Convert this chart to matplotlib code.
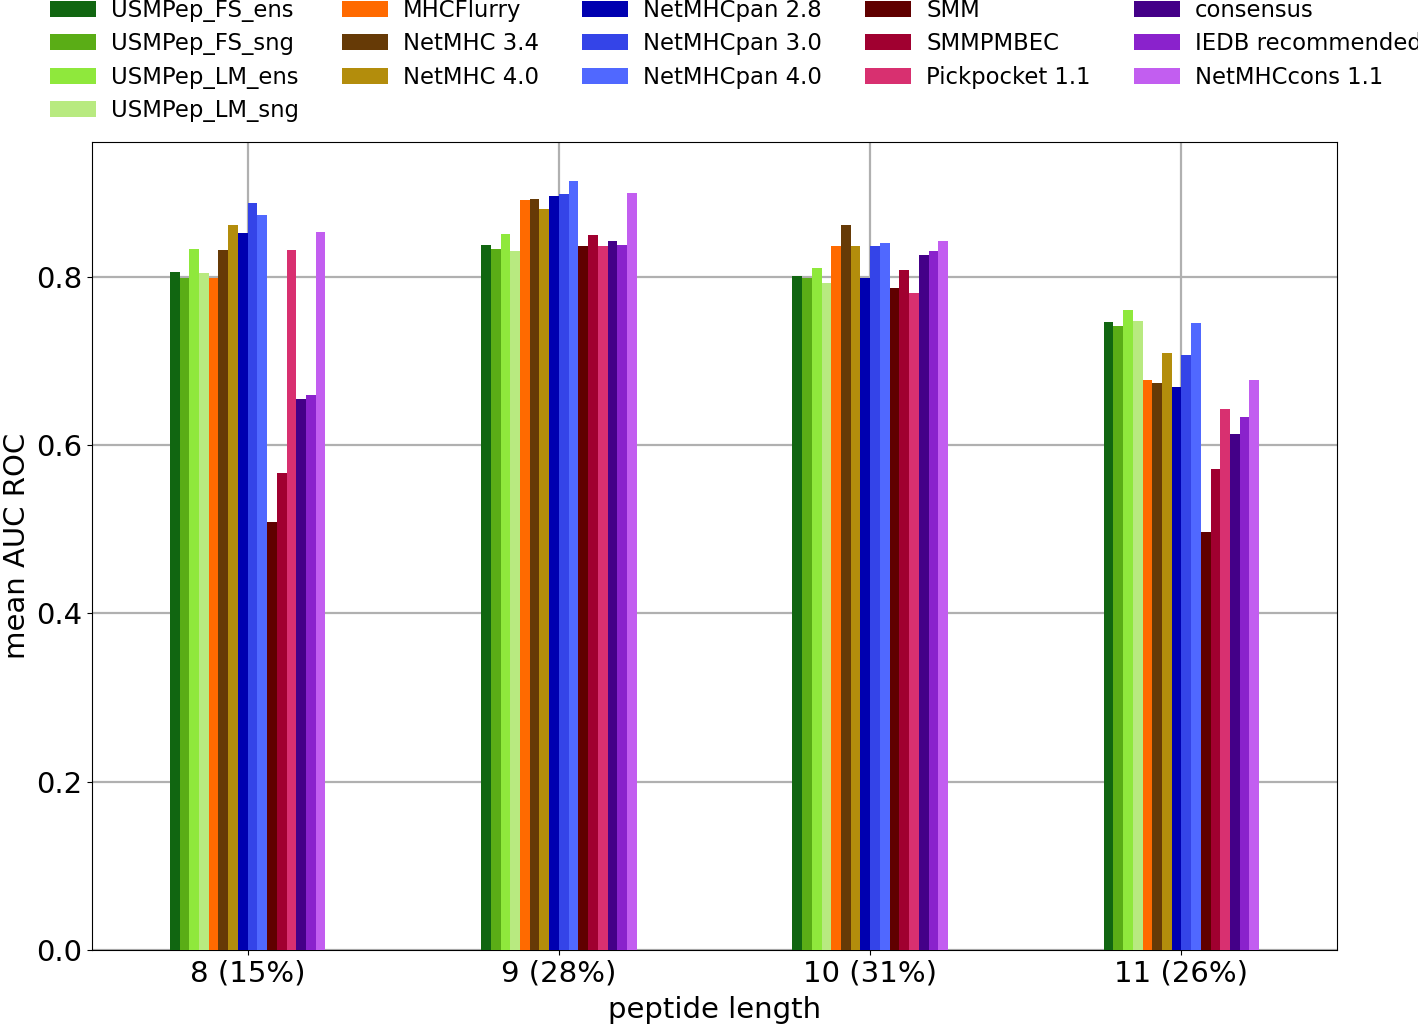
import numpy as np
import matplotlib
matplotlib.use('Agg')
from matplotlib import pyplot as plt

groups = ['8 (15%)', '9 (28%)', '10 (31%)', '11 (26%)']

methods = ['USMPep_FS_ens', 'USMPep_FS_sng', 'USMPep_LM_ens', 'USMPep_LM_sng',
           'MHCFlurry', 'NetMHC 3.4', 'NetMHC 4.0',
           'NetMHCpan 2.8', 'NetMHCpan 3.0', 'NetMHCpan 4.0',
           'SMM', 'SMMPMBEC', 'Pickpocket 1.1',
           'consensus', 'IEDB recommended', 'NetMHCcons 1.1']

colors = ['#116611', '#5aad16', '#8fe83c', '#b8ea80',
          '#ff6a00', '#663a06', '#b38d0c',
          '#0000b0', '#3444e8', '#5068ff',
          '#600000', '#a00030', '#d83070',
          '#440088', '#8a22cc', '#c25ef0']

# mean AUC ROC per method, one value per peptide length (8, 9, 10, 11)
usmpep_fs_ens = [0.806, 0.838, 0.801, 0.746]
usmpep_fs_sng = [0.798, 0.833, 0.798, 0.741]
usmpep_lm_ens = [0.833, 0.851, 0.810, 0.760]
usmpep_lm_sng = [0.804, 0.830, 0.793, 0.747]
mhcflurry = [0.798, 0.891, 0.837, 0.677]
netmhc_34 = [0.832, 0.892, 0.862, 0.674]
netmhc_40 = [0.862, 0.880, 0.836, 0.709]
netmhcpan_28 = [0.852, 0.896, 0.798, 0.669]
netmhcpan_30 = [0.887, 0.898, 0.836, 0.707]
netmhcpan_40 = [0.873, 0.914, 0.840, 0.745]
smm = [0.508, 0.836, 0.786, 0.497]
smmpmbec = [0.567, 0.850, 0.808, 0.572]
pickpocket = [0.832, 0.836, 0.781, 0.643]
consensus = [0.655, 0.842, 0.826, 0.613]
iedb_rec = [0.659, 0.838, 0.830, 0.633]
netmhccons = [0.853, 0.899, 0.842, 0.677]

values = [usmpep_fs_ens, usmpep_fs_sng, usmpep_lm_ens, usmpep_lm_sng,
          mhcflurry, netmhc_34, netmhc_40,
          netmhcpan_28, netmhcpan_30, netmhcpan_40,
          smm, smmpmbec, pickpocket,
          consensus, iedb_rec, netmhccons]

fig = plt.figure(figsize=(14.18, 10.24), dpi=100)
ax = fig.add_axes([0.0649, 0.0723, 0.878, 0.789])

x = np.arange(len(groups))
n = len(methods)
width = 0.5 / n
for i in range(n):
    offs = (i - (n - 1) / 2) * width
    ax.bar(x + offs, values[i], width, color=colors[i], label=methods[i], zorder=3)

ax.set_xlim(-0.5, 3.5)
ax.set_ylim(0, 0.96)
ax.set_xticks(x)
ax.set_xticklabels(groups)
ax.set_yticks([0.0, 0.2, 0.4, 0.6, 0.8])
ax.tick_params(labelsize=21)
ax.grid(True, color='#b0b0b0', linewidth=1.6, zorder=0)
ax.set_xlabel('peptide length', fontsize=21, labelpad=6)
ax.set_ylabel('mean AUC ROC', fontsize=21)

fig.legend(loc='upper left', bbox_to_anchor=(0.029, 1.01), ncol=5, frameon=False,
           fontsize=16.4, handlelength=2.0, handletextpad=0.67, labelspacing=0.46,
           columnspacing=1.9, borderaxespad=0)

plt.savefig('out.png', dpi=100)
